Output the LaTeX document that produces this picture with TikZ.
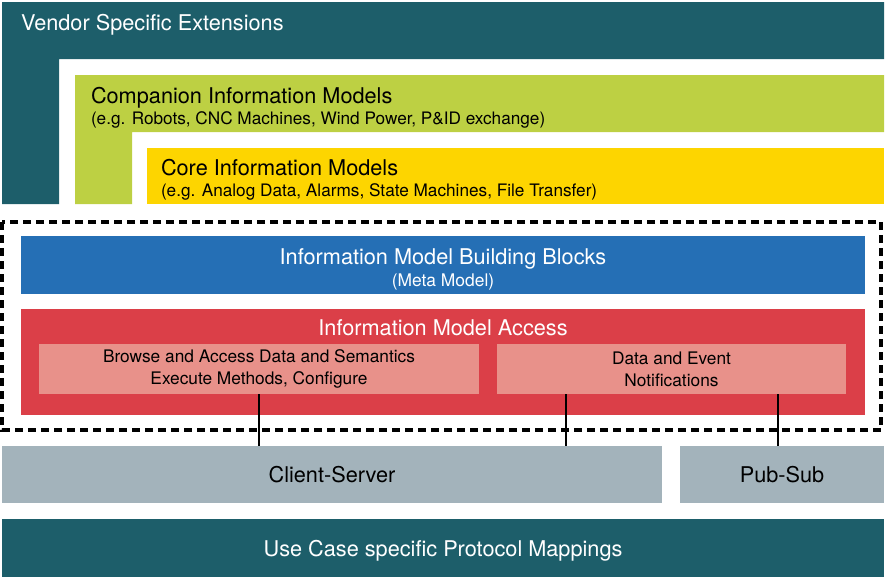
\documentclass[tikz,border=0pt]{standalone}
\usepackage{fontspec}
\setmainfont{TeX Gyre Heros}
\usetikzlibrary{calc}
\definecolor{teal1}{RGB}{29,94,106}
\definecolor{lime1}{RGB}{189,208,67}
\definecolor{gold1}{RGB}{253,213,0}
\definecolor{blue1}{RGB}{37,111,181}
\definecolor{red1}{RGB}{219,63,72}
\definecolor{pink1}{RGB}{232,145,138}
\definecolor{grey1}{RGB}{163,179,187}
\tikzset{
  box/.style={draw=none, inner sep=0pt, outer sep=0pt, align=center},
  lbl/.style={draw=none, inner sep=0pt, outer sep=0pt, align=center, text depth=0pt},
  bigtxt/.style={font=\fontsize{21.7}{24}\selectfont},
  subtxt/.style={font=\fontsize{17.2}{20}\selectfont},
  smalltxt/.style={font=\fontsize{17.4}{20}\selectfont},
  midtxt/.style={font=\fontsize{17.3}{22}\selectfont},
  link/.style={draw=black, line width=1.4pt},
}
\begin{document}
\begin{tikzpicture}[x=1pt, y=-1pt]
  \useasboundingbox (0,0) rectangle (886,579);
  % nested L-shaped layers
  \fill[teal1] (2,2) -- (884,2) -- (884,59) -- (59,59) -- (59,204) -- (2,204) -- cycle;
  \fill[lime1] (75,75) -- (884,75) -- (884,132) -- (132,132) -- (132,204) -- (75,204) -- cycle;
  \fill[gold1] (147,148) rectangle (884,204);
  \node[lbl, anchor=west, text=white, bigtxt] (vendor) at (21,22) {Vendor Specific Extensions};
  \node[lbl, anchor=west, bigtxt] (companion) at (91,95) {Companion Information Models};
  \node[lbl, anchor=west, subtxt] (companionex) at (91,118) {(e.g. Robots, CNC Machines, Wind Power, P\&ID exchange)};
  \node[lbl, anchor=west, bigtxt] (core) at (161,167) {Core Information Models};
  \node[lbl, anchor=west, subtxt] (coreex) at (161,190) {(e.g. Analog Data, Alarms, State Machines, File Transfer)};
  % information model group
  \draw[line width=4pt, dash pattern=on 8pt off 5pt] (2,222) rectangle (881,430);
  \fill[blue1] (21,236) rectangle (865,294);
  \node[lbl, text=white, bigtxt] (blocks) at (443,257) {Information Model Building Blocks};
  \node[lbl, text=white, smalltxt] (meta) at (443,280) {(Meta Model)};
  \fill[red1] (21,309) rectangle (865,415);
  \node[lbl, text=white, bigtxt] (access) at (443,328) {Information Model Access};
  \node[box, fill=pink1, minimum width=440pt, minimum height=50pt, midtxt] (browse) at (259,369) {Browse and Access Data and Semantics\\Execute Methods, Configure};
  \node[box, fill=pink1, minimum width=349pt, minimum height=50pt, midtxt] (events) at (671.5,369) {Data and Event\\Notifications};
  % transports
  \node[box, text depth=0pt, fill=grey1, minimum width=660pt, minimum height=57pt, bigtxt] (cs) at (332,474.5) {Client-Server};
  \node[box, text depth=0pt, fill=grey1, minimum width=204pt, minimum height=57pt, bigtxt] (ps) at (782,474.5) {Pub-Sub};
  \node[box, text depth=0pt, fill=teal1, text=white, minimum width=882pt, minimum height=58pt, bigtxt] (mapping) at (443,548) {Use Case specific Protocol Mappings};
  % connections
  \coordinate (e1) at ($(events.south west)!0.198!(events.south east)$);
  \coordinate (e2) at ($(events.south west)!0.805!(events.south east)$);
  \draw[link] (browse.south) -- (browse.south |- cs.north);
  \draw[link] (e1) -- (e1 |- cs.north);
  \draw[link] (e2) -- (e2 |- ps.north);
\end{tikzpicture}
\end{document}
